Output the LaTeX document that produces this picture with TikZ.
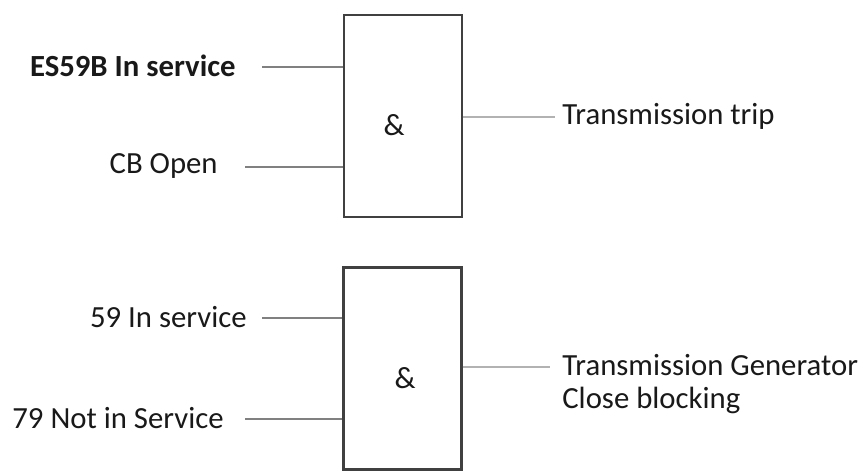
\documentclass[tikz,border=0pt]{standalone}
\usepackage{fontspec}
\setmainfont{Carlito}
\usetikzlibrary{positioning}

\begin{document}
\begin{tikzpicture}[
  x=0.02cm, y=-0.02cm,
  gate/.style={draw=black!75, line width=1.4pt, minimum width=2.36cm, minimum height=4.04cm, inner sep=0pt, font=\fontsize{17.5}{19}\selectfont},
  sig/.style={inner sep=0pt, text=black!90, font=\fontsize{17.5}{19}\selectfont},
  inp/.style={draw=black!50, line width=0.6pt},
  outp/.style={draw=black!30, line width=0.9pt}
]
\useasboundingbox (0,0) rectangle (865,471);

\node[gate] (trip) at (403,116) {};
\node[gate] (block) at (402.5,368.5) {};
\node[sig] (tripand) at (394,125) {\&};
\node[sig] (blockand) at (405,378) {\&};

\coordinate (es59b) at (262,67);
\coordinate (cbopen) at (245,167);
\coordinate (s59) at (262,318);
\coordinate (s79) at (245,419);
\coordinate (tripend) at (555,117);
\coordinate (blockend) at (550,367);

\node[sig, anchor=east] (es59btxt) at (236,66) {\textbf{ES59B In service}};
\node[sig, anchor=east] (cbopentxt) at (218,166) {CB Open};
\node[sig, anchor=east] (s59txt) at (247,317) {59 In service};
\node[sig, anchor=east] (s79txt) at (224,418) {79 Not in Service};
\node[sig, anchor=west] (triptxt) at (562,116) {Transmission trip};
\node[sig, anchor=west, align=left] (blocktxt) at (562,384) {Transmission Generator\\Close blocking};

\draw[inp] (es59b) -- (es59b -| trip.west);
\draw[inp] (cbopen) -- (cbopen -| trip.west);
\draw[inp] (s59) -- (s59 -| block.west);
\draw[inp] (s79) -- (s79 -| block.west);
\draw[outp] (trip.east |- tripend) -- (tripend);
\draw[outp] (block.east |- blockend) -- (blockend);
\end{tikzpicture}
\end{document}
